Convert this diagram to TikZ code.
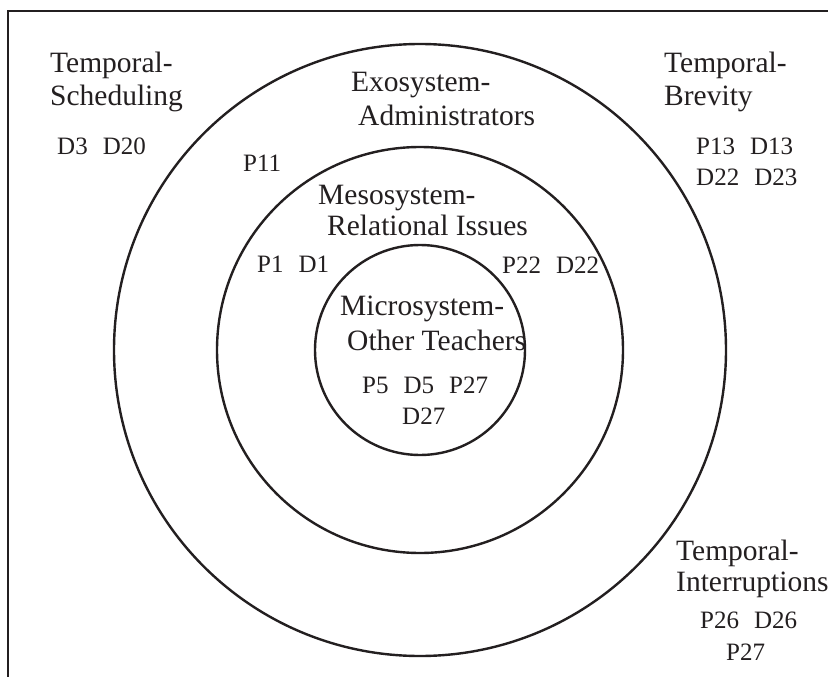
\documentclass[tikz,border=0pt]{standalone}
\usepackage{fontspec}
\setmainfont{Liberation Serif}
\definecolor{ink}{HTML}{231F20}
\begin{document}
\begin{tikzpicture}[x=1pt,y=-1pt,
  ring/.style={draw=ink,line width=2.4pt},
  frameline/.style={draw=ink,line width=2.2pt},
  heading/.style={anchor=base west,inner sep=0pt,text=ink,font=\fontsize{29.5}{33}\selectfont},
  codes/.style={anchor=base west,inner sep=0pt,text=ink,font=\fontsize{25}{31}\selectfont}]
\useasboundingbox (0,0) rectangle (828,677);
\fill[white] (0,0) rectangle (828,677);
% open frame: top and left edges
\coordinate (fTR) at (828,11);
\coordinate (fTL) at (8,11);
\coordinate (fBL) at (8,677);
\draw[frameline] (fTR) -- (fTL) -- (fBL);
% nested systems
\coordinate (c) at (420,350);
\draw[ring] (c) circle[radius=306pt];
\draw[ring] (c) circle[radius=203pt];
\draw[ring] (c) circle[radius=105pt];
% temporal: scheduling
\node[heading] (ts1) at (50,73) {Temporal-};
\node[heading] (ts2) at (50,106) {Scheduling};
\node[codes] (tsc) at (57,154) {D3\hspace{0.6em}D20};
% temporal: brevity
\node[heading] (tb1) at (664,73) {Temporal-};
\node[heading] (tb2) at (664,106) {Brevity};
\node[codes] (tbc1) at (696,154) {P13\hspace{0.6em}D13};
\node[codes] (tbc2) at (696,185) {D22\hspace{0.6em}D23};
% exosystem
\node[heading] (ex1) at (351,92) {Exosystem-};
\node[heading] (ex2) at (358,125) {Administrators};
\node[codes] (exc) at (243,171) {P11};
% mesosystem
\node[heading] (me1) at (318,204) {Mesosystem-};
\node[heading] (me2) at (327,235) {Relational Issues};
\node[codes] (mec1) at (257,272) {P1\hspace{0.6em}D1};
\node[codes] (mec2) at (502,273) {P22\hspace{0.6em}D22};
% microsystem
\node[heading] (mi1) at (340,315) {Microsystem-};
\node[heading] (mi2) at (347,350) {Other Teachers};
\node[codes] (mic1) at (362,393) {P5\hspace{0.6em}D5\hspace{0.6em}P27};
\node[codes] (mic2) at (402,424) {D27};
% temporal: interruptions
\node[heading] (ti1) at (676,560) {Temporal-};
\node[heading] (ti2) at (676,591) {Interruptions};
\node[codes] (tic1) at (700,628) {P26\hspace{0.6em}D26};
\node[codes] (tic2) at (726,660) {P27};
\end{tikzpicture}
\end{document}
